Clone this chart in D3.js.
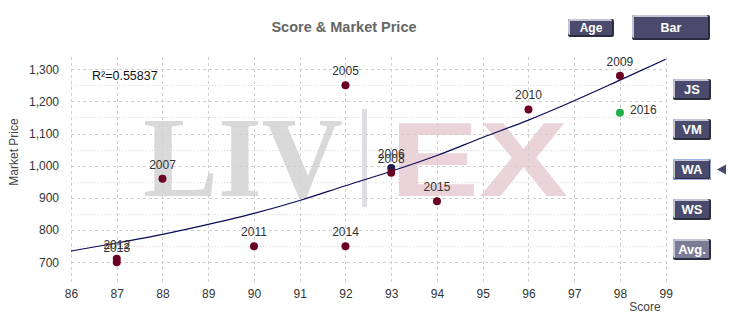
<!DOCTYPE html>
<html>
<head>
<meta charset="utf-8">
<script src="https://cdn.jsdelivr.net/npm/d3@7"></script>
<style>
  html, body { margin: 0; padding: 0; background: #fff; }
  svg { display: block; font-family: Arial, "Liberation Sans", sans-serif; }
</style>
</head>
<body>
<svg id="chart" width="735" height="323"></svg>
<script>
// Vintages plotted by critic score against market price
const vintages = ["2005", "2006", "2007", "2008", "2009", "2010", "2011", "2012", "2013", "2014", "2015", "2016"];
const scores   = [92, 93, 88, 93, 98, 96, 90, 87, 87, 92, 94, 98];
const prices   = [1250, 993, 960, 978, 1280, 1175, 750, 711, 700, 750, 890, 1165];
const pointColors = ["#6b0022", "#1c1c52", "#6b0022", "#6b0022", "#6b0022", "#6b0022",
                     "#6b0022", "#6b0022", "#6b0022", "#6b0022", "#6b0022", "#22b04a"];

// Fitted trend curve sampled at each score
const trendScores = [86, 87, 88, 89, 90, 91, 92, 93, 94, 95, 96, 97, 98, 99];
const trendPrices = [735, 760, 787, 818, 852, 892, 938, 983, 1032, 1088, 1142, 1202, 1266, 1331];
const rSquared = "0.55837";

// Axis ticks
const xTicks = [86, 87, 88, 89, 90, 91, 92, 93, 94, 95, 96, 97, 98, 99];
const yTicks = [700, 800, 900, 1000, 1100, 1200, 1300];
const yMinorTicks = [750, 850, 950, 1050, 1150, 1250];

// Side buttons
const criticButtons = ["JS", "VM", "WA", "WS", "Avg."];
const selectedCritic = "WA";

const svg = d3.select("#chart");

const plot = { left: 71, right: 666, top: 57, bottom: 280 };
const x = d3.scaleLinear().domain([86, 99]).range([plot.left, 665.7]);
const y = d3.scaleLinear().domain([645, 1338]).range([plot.bottom, plot.top]);

// Title
svg.append("text")
  .attr("x", 344).attr("y", 32)
  .attr("text-anchor", "middle")
  .attr("font-size", 14.5).attr("font-weight", "bold")
  .attr("fill", "#666")
  .text("Score & Market Price");

// Watermark
const wm = svg.append("g");
wm.append("text")
  .attr("x", 143).attr("y", 196)
  .attr("font-family", "'Liberation Serif', 'DejaVu Serif', serif")
  .attr("font-weight", "bold").attr("font-size", 114)
  .attr("textLength", 200).attr("lengthAdjust", "spacingAndGlyphs")
  .attr("fill", "#d9d9d9")
  .text("LIV");
wm.append("rect")
  .attr("x", 362).attr("y", 109).attr("width", 5).attr("height", 98)
  .attr("fill", "#dddde4");
wm.append("text")
  .attr("x", 390).attr("y", 196)
  .attr("font-family", "'Liberation Sans', Arial, sans-serif")
  .attr("font-weight", "bold").attr("font-size", 105)
  .attr("textLength", 178).attr("lengthAdjust", "spacingAndGlyphs")
  .attr("fill", "#ebd3da")
  .text("EX");

// Grid
const grid = svg.append("g");
grid.selectAll("line.v").data(xTicks).join("line")
  .attr("class", "v")
  .attr("x1", d => Math.round(x(d)) + 0.5).attr("x2", d => Math.round(x(d)) + 0.5)
  .attr("y1", plot.top).attr("y2", 285)
  .attr("stroke", "#d0d0d0").attr("stroke-dasharray", "3,3");
grid.selectAll("line.h").data(yTicks).join("line")
  .attr("class", "h")
  .attr("x1", plot.left).attr("x2", 666)
  .attr("y1", d => Math.round(y(d)) + 0.5).attr("y2", d => Math.round(y(d)) + 0.5)
  .attr("stroke", "#d0d0d0").attr("stroke-dasharray", "3,3");
grid.selectAll("line.hm").data(yMinorTicks).join("line")
  .attr("class", "hm")
  .attr("x1", plot.left).attr("x2", 666)
  .attr("y1", d => Math.round(y(d)) + 0.5).attr("y2", d => Math.round(y(d)) + 0.5)
  .attr("stroke", "#d6d6d6").attr("stroke-dasharray", "1,2");

// Axes (labels only)
const xAxis = svg.append("g")
  .attr("transform", `translate(0,${plot.bottom})`)
  .call(d3.axisBottom(x).tickValues(xTicks).tickSize(0).tickPadding(9).tickFormat(d3.format("d")));
const yAxis = svg.append("g")
  .attr("transform", `translate(${plot.left},0)`)
  .call(d3.axisLeft(y).tickValues(yTicks).tickSize(0).tickPadding(12).tickFormat(d3.format(",")));
[xAxis, yAxis].forEach(a => {
  a.select(".domain").remove();
  a.selectAll("text").attr("font-size", 12).attr("fill", "#333")
    .attr("font-family", "Arial, 'Liberation Sans', sans-serif");
});

svg.append("text")
  .attr("transform", "translate(18,152) rotate(-90)")
  .attr("text-anchor", "middle")
  .attr("font-size", 12).attr("fill", "#444")
  .text("Market Price");
svg.append("text")
  .attr("x", 645).attr("y", 311)
  .attr("text-anchor", "middle")
  .attr("font-size", 12).attr("fill", "#444")
  .text("Score");

// R squared
svg.append("text")
  .attr("x", 92).attr("y", 80)
  .attr("font-size", 12.5).attr("fill", "#111")
  .text("R\u00B2=" + rSquared);

// Trend curve
const trend = trendScores.map((s, i) => [s, trendPrices[i]]);
svg.append("path")
  .datum(trend)
  .attr("fill", "none")
  .attr("stroke", "#0a0a55").attr("stroke-width", 1.2)
  .attr("d", d3.line().x(d => x(d[0])).y(d => y(d[1])).curve(d3.curveMonotoneX));

// Points and their vintage labels
const pts = vintages.map((v, i) => ({ v, s: scores[i], p: prices[i], c: pointColors[i] }));
svg.append("g").selectAll("circle").data(pts).join("circle")
  .attr("cx", d => x(d.s)).attr("cy", d => y(d.p))
  .attr("r", 4).attr("fill", d => d.c);
svg.append("g").selectAll("text").data(pts).join("text")
  .attr("x", d => d.v === "2016" ? x(d.s) + 10 : x(d.s))
  .attr("y", d => d.v === "2016" ? y(d.p) + 1 : y(d.p) - 10)
  .attr("text-anchor", d => d.v === "2016" ? "start" : "middle")
  .attr("font-size", 12).attr("fill", "#333")
  .text(d => d.v);

// Buttons
function button(g, bx, by, w, h, label, fill, fontSize, selected) {
  const b = g.append("g");
  b.append("rect").attr("x", bx).attr("y", by).attr("width", w).attr("height", h)
    .attr("rx", 2).attr("fill", "#2c2c40");
  b.append("rect").attr("x", bx).attr("y", by).attr("width", w - 2).attr("height", h - 2)
    .attr("rx", 2).attr("fill", "#c4c4d2");
  b.append("rect").attr("x", bx + 2).attr("y", by + 2).attr("width", w - 4).attr("height", h - 4)
    .attr("fill", fill);
  if (selected) {
    b.append("rect").attr("x", bx + 0.5).attr("y", by + 0.5).attr("width", w - 1).attr("height", h - 1)
      .attr("rx", 2).attr("fill", "none").attr("stroke", "#9cb4e6").attr("stroke-width", 1);
  }
  b.append("text").attr("x", bx + w / 2).attr("y", by + h / 2 + fontSize * 0.36)
    .attr("text-anchor", "middle").attr("font-weight", "bold")
    .attr("font-size", fontSize).attr("fill", "#fff")
    .text(label);
}
const ui = svg.append("g");
button(ui, 568, 19, 46, 18, "Age", "#4a4a6c", 12, false);
button(ui, 632, 15, 78, 25, "Bar", "#4a4a6c", 12.5, false);

const btnY = d3.scalePoint().domain(criticButtons).range([79, 239]);
criticButtons.forEach(c => {
  button(ui, 673, btnY(c), 38, 21, c, c === "Avg." ? "#7c7c96" : "#4a4a6c", 13, c === selectedCritic);
});
const sy = btnY(selectedCritic) + 10.5;
ui.append("path")
  .attr("d", `M717,${sy} L726,${sy - 5} L726,${sy + 5} Z`)
  .attr("fill", "#4a4a6c");
</script>
</body>
</html>
